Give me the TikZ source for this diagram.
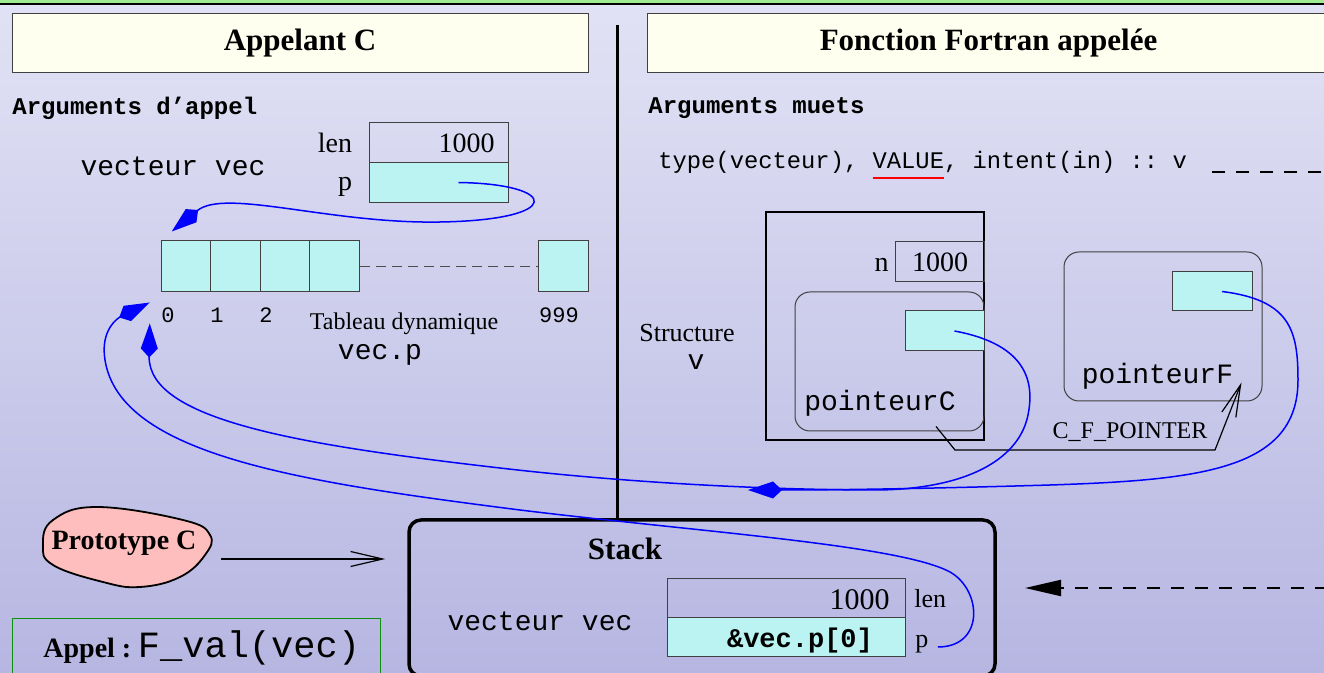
\documentclass[tikz,border=0pt]{standalone}
\usepackage{fontspec}
\setmainfont{Liberation Serif}
\setmonofont{Liberation Mono}
\usetikzlibrary{arrows.meta,positioning}

\definecolor{fondhaut}{RGB}{226,226,245}
\definecolor{fondbas}{RGB}{182,182,226}
\definecolor{vertbandeau}{RGB}{160,236,144}
\definecolor{ivoire}{RGB}{255,255,240}
\definecolor{cyancase}{RGB}{187,243,243}
\definecolor{saumon}{RGB}{255,190,190}
\definecolor{vertcadre}{RGB}{16,144,16}
\definecolor{bleulien}{RGB}{0,0,255}

\newlength\largeurVal
\newcommand{\soulignerouge}[1]{\settowidth{\largeurVal}{#1}\rlap{\textcolor{red}{\rule[-5pt]{\largeurVal}{1pt}}}#1}

\tikzset{
  titre/.style={draw=black!75, line width=0.5pt, fill=ivoire, minimum height=29.5pt, font=\fontsize{15.5}{18}\selectfont\bfseries},
  cellule/.style={draw=black!75, line width=0.5pt, fill=cyancase},
  cadre/.style={draw=black!75, line width=0.5pt},
  mono/.style={font=\fontsize{14}{16}\selectfont\ttfamily},
  monogras/.style={font=\fontsize{12}{14}\selectfont\ttfamily\bfseries},
  roman/.style={font=\fontsize{14}{16}\selectfont},
  lien/.style={bleulien, line width=0.75pt, -{Kite[length=17pt,width=8.5pt,inset=4.5pt]}},
  barbe/.style={line width=0.6pt, -{Straight Barb[length=16pt,width=7.5pt]}},
  pointille/.style={line width=1pt, dash pattern=on 6.5pt off 5.5pt, -{Triangle[length=18pt,width=8pt]}}
}

\begin{document}
\begin{tikzpicture}[x=0.5pt, y=-0.5pt, every node/.style={inner sep=0pt}]
  % Fond
  \useasboundingbox (0,0) rectangle (1324,673);
  \shade[top color=fondhaut, bottom color=fondbas] (0,0) rectangle (1324,673);
  \draw[fill=vertbandeau, line width=0.75pt] (-10,-20) rectangle (1334,4);
  % Titres
  \node[titre, minimum width=288pt] (titreC) at (300,43.5) {Appelant C};
  \node[titre, minimum width=341.5pt] (titreF) at (988.5,43.5) {Fonction Fortran appelée};
  \coordinate (sepHaut) at (617,25);

  % Appelant C : structure vec
  \node[monogras, anchor=west] (argsC) at (12,108) {Arguments d’appel};
  \node[mono] (vecC) at (173,166) {vecteur vec};
  \node[cadre, minimum width=69.5pt, minimum height=20pt] (lenG) at (438.5,143) {};
  \node[cellule, minimum width=69.5pt, minimum height=19.75pt] (pG) at (438.5,182.5) {};
  \node[roman, anchor=east] (val1000G) at (495,143) {1000};
  \node[roman, left=8pt of lenG] (lenLabG) {len};
  \node[roman, left=8pt of pG, yshift=-2pt] (pLabG) {p};
  % Tableau dynamique
  \foreach \i in {0,...,3} {
    \node[cellule, minimum width=24.75pt, minimum height=25.5pt] (c\i) at ({186+49.5*\i},266.5) {};
  }
  \node[cellule, minimum width=25pt, minimum height=25.5pt] (c999) at (563,266.5) {};
  \draw[black!70, line width=0.5pt, dash pattern=on 5pt off 3pt] (c3.east) -- (c999.west);
  \foreach \i in {0,1,2} {
    \node[font=\fontsize{11}{13}\selectfont\ttfamily] (idx\i) at ({168+49*\i},315) {\i};
  }
  \node[font=\fontsize{11}{13}\selectfont\ttfamily] (idx999) at (559,315) {999};
  \node[font=\fontsize{12}{14}\selectfont] (tabDyn) at (404,324) {Tableau dynamique};
  \node[mono] (vecP) at (380,355) {vec.p};

  % Fonction Fortran : argument muet v
  \node[monogras, anchor=west] (argsF) at (648,108) {Arguments muets};
  \node[font=\fontsize{11.9}{14}\selectfont\ttfamily, anchor=west] (declV) at (658,165) {type(vecteur), \soulignerouge{VALUE}, intent(in) :: v};
  \node[draw, line width=1pt, minimum width=109pt, minimum height=114pt] (structV) at (875,326) {};
  \node[cadre, minimum width=44.5pt, minimum height=20pt] (nBox) at (939.5,262) {};
  \node[roman] (val1000F) at (940,262) {1000};
  \node[roman, anchor=base east] (nLab) at (889,272) {n};
  \node[cadre, rounded corners=7.5pt, minimum width=94.5pt, minimum height=69.5pt] (ptrC) at (889.5,361.5) {};
  \node[cellule, minimum width=39.5pt, minimum height=20pt] (caseC) at (944.5,331) {};
  \node[mono] (labC) at (880,403) {pointeurC};
  \node[cadre, rounded corners=7.5pt, minimum width=99pt, minimum height=74.5pt] (ptrF) at (1163,326.5) {};
  \node[cellule, minimum width=40pt, minimum height=19.5pt] (caseF) at (1212,291.5) {};
  \node[mono] (labF) at (1157.5,376) {pointeurF};
  \node[font=\fontsize{13}{15}\selectfont] (structLab) at (687,333) {Structure};
  \node[mono] (vLab) at (696,362) {v};
  \node[font=\fontsize{12}{14}\selectfont] (cfLab) at (1130,432) {C\_F\_POINTER};
  \draw[barbe] ([xshift=-10pt,yshift=-5pt]labC.south east) -- (955,450) -- (1215,450) -- ([xshift=-10.5pt,yshift=9.5pt]ptrF.south east);

  % Pile
  \node[draw, line width=1.75pt, rounded corners=6pt, minimum width=293pt, minimum height=78pt] (stack) at (702,598) {};
  \draw[line width=1.5pt] (sepHaut) -- (sepHaut |- stack.north);
  \node[font=\fontsize{15.5}{18}\selectfont\bfseries] (stackLab) at (625,548.5) {Stack};
  \node[mono] (vecS) at (540,621) {vecteur vec};
  \node[cadre, minimum width=119pt, minimum height=19.5pt] (lenS) at (786,598.5) {};
  \node[cellule, minimum width=119pt, minimum height=19.5pt] (pS) at (786,637.5) {};
  \node[font=\fontsize{15}{17}\selectfont, anchor=base east] (val1000S) at (890,610) {1000};
  \node[font=\fontsize{13.5}{15}\selectfont\ttfamily\bfseries] (adrS) at (800,641) {\&vec.p[0]};
  \node[font=\fontsize{13}{15}\selectfont, anchor=base west] (lenLabS) at (914,608) {len};
  \node[font=\fontsize{13}{15}\selectfont, anchor=base west] (pLabS) at (915,647) {p};

  % Prototype C et appel
  \draw[fill=saumon, line width=0.9pt] plot[smooth cycle, tension=0.7] coordinates {(53,520) (97,507) (183,520) (210,535) (205,555) (180,577) (140,587) (103,582) (53,565) (43,545)};
  \node[font=\fontsize{14}{16}\selectfont\bfseries] (proto) at (124,543) {Prototype C};
  \coordinate (sortieP) at (221,559);
  \draw[barbe, shorten >=11pt] (sortieP) -- (sortieP -| stack.west);
  \node[draw=vertcadre, line width=0.6pt, minimum width=184pt, minimum height=34pt, anchor=north west] (appel) at (12,618) {};
  \node[anchor=base west] (appelTxt) at (43,657.5) {{\fontsize{14}{16}\selectfont\bfseries Appel :} {\fontsize{18.5}{20}\selectfont\ttfamily F\_val(vec)}};

  % Pointille de v vers la pile
  \coordinate (debutP) at (1212,172);
  \coordinate (horsH) at (1350,172);
  \coordinate (horsB) at (1350,588);
  \coordinate (entreeS) at (1025,588);
  \draw[pointille] (debutP) -- (horsH) -- (horsB) -- (entreeS);

  % Liens bleus
  \coordinate (jonction) at (748,490);
  \draw[lien] ([xshift=10pt]pG.center) .. controls (560,184) and (565,220) .. (440,222) .. controls (330,224) and (225,188) .. ([xshift=5.5pt,yshift=4.5pt]c0.north west);
  \draw[lien] ([xshift=4.5pt]pLabS.base east) .. controls (985,647) and (982,590) .. (950,572) .. controls (900,545) and (700,532) .. (520,510) .. controls (300,482) and (120,455) .. (105,360) .. controls (100,330) and (118,318) .. ([xshift=-5.5pt,yshift=-5pt]c0.south west);
  \draw[lien] ([xshift=5pt]caseC.center) .. controls (1030,345) and (1034,385) .. (1028,415) .. controls (1020,455) and (975,488) .. (880,490) .. controls (760,490) and (620,482) .. (500,468) .. controls (300,445) and (148,420) .. ([xshift=-5.5pt,yshift=-15.5pt]c0.south west);
  \draw[lien] ([xshift=5pt]caseF.center) .. controls (1290,300) and (1298,330) .. (1298,380) .. controls (1298,470) and (1200,480) .. (1050,485) .. controls (950,488) and (850,490) .. (jonction);
\end{tikzpicture}
\end{document}
